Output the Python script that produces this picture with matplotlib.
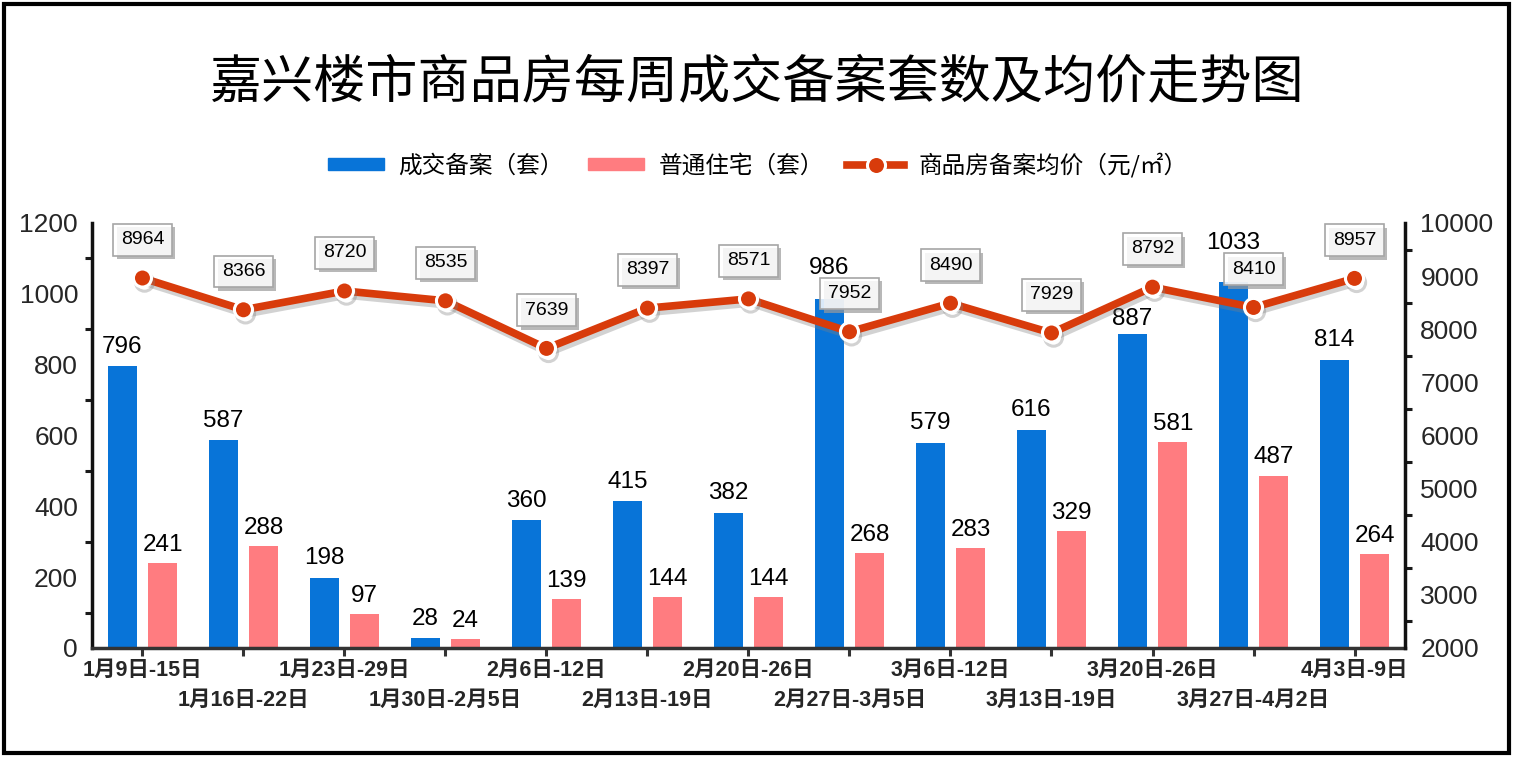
import matplotlib
matplotlib.use('Agg')
import matplotlib.pyplot as plt
import numpy as np
from matplotlib.patches import Patch, Rectangle
from matplotlib.lines import Line2D
import matplotlib.patheffects as pe

plt.rcParams['font.family'] = ['Liberation Sans', 'Noto Sans CJK SC', 'DejaVu Sans']

weeks = ['1月9日-15日', '1月16日-22日', '1月23日-29日', '1月30日-2月5日', '2月6日-12日',
         '2月13日-19日', '2月20日-26日', '2月27日-3月5日', '3月6日-12日', '3月13日-19日',
         '3月20日-26日', '3月27日-4月2日', '4月3日-9日']
total_units = [796, 587, 198, 28, 360, 415, 382, 986, 579, 616, 887, 1033, 814]
resid_units = [241, 288, 97, 24, 139, 144, 144, 268, 283, 329, 581, 487, 264]
avg_price = [8964, 8366, 8720, 8535, 7639, 8397, 8571, 7952, 8490, 7929, 8792, 8410, 8957]

title = '嘉兴楼市商品房每周成交备案套数及均价走势图'
legend_labels = ['成交备案（套）', '普通住宅（套）', '商品房备案均价（元/㎡）']

BLUE = '#0874D8'
PINK = '#FF7C80'
RED = '#D83B0B'

fig = plt.figure(figsize=(15.15, 7.6), dpi=100)
ax = fig.add_axes([0.0607, 0.1474, 0.8667, 0.5592])
ax2 = ax.twinx()

x = np.arange(len(weeks))
w = 0.29
ax.bar(x - 0.2, total_units, w, color=BLUE, zorder=2)
ax.bar(x + 0.2, resid_units, w, color=PINK, zorder=2)
ax.set_xlim(-0.5, len(weeks) - 0.5)
ax.set_ylim(0, 1200)
ax2.set_ylim(2000, 10000)

# bar value labels
special = {7: 22, 10: 11, 11: 28}
for i, v in enumerate(total_units):
    ax.annotate(str(v), (x[i] - 0.2, v), xytext=(0, special.get(i, 14)), textcoords='offset points',
                ha='center', va='center', fontsize=17.5, color='black')
for i, v in enumerate(resid_units):
    ax.annotate(str(v), (x[i] + 0.2, v), xytext=(0, 13), textcoords='offset points',
                ha='center', va='center', fontsize=17.5, color='black')

# ticks / spines
ax.set_yticks(range(0, 1201, 200))
ax.set_yticks(range(100, 1200, 200), minor=True)
ax.tick_params(axis='y', which='major', length=0, labelsize=19, pad=10, labelcolor='#262626')
ax.tick_params(axis='y', which='minor', length=5, width=2.2, direction='out', color='#1a1a1a')
ax.set_xticks(x)
ax.set_xticklabels([])
ax.tick_params(axis='x', which='major', length=6, width=2.2, direction='out', color='#333333')

ax2.set_yticks(range(2000, 10001, 1000))
ax2.set_yticks(range(2500, 10000, 1000), minor=True)
ax2.tick_params(axis='y', which='major', length=0, labelsize=19, pad=11, labelcolor='#262626')
ax2.tick_params(axis='y', which='minor', length=5, width=2.2, direction='out', color='#1a1a1a')

for s in ['top', 'right']:
    ax.spines[s].set_visible(False)
for s in ['top', 'left', 'bottom']:
    ax2.spines[s].set_visible(False)
ax.spines['left'].set_linewidth(2.5)
ax.spines['left'].set_color('#111111')
ax.spines['bottom'].set_linewidth(2.5)
ax.spines['bottom'].set_color('#333333')
ax2.spines['right'].set_linewidth(2.5)
ax2.spines['right'].set_color('#111111')

# x category labels (two staggered rows)
for i, lab in enumerate(weeks):
    off = -16 if i % 2 == 0 else -37.5
    ax.annotate(lab, xy=(x[i], 0), xycoords=('data', 'axes fraction'), xytext=(0, off),
                textcoords='offset points', ha='center', va='center', fontsize=15.5,
                fontweight='bold', color='#262626', annotation_clip=False)

# price line
ax2.plot(x, avg_price, color=RED, lw=5.5, marker='o', ms=13, mfc=RED, mec='white', mew=2.2,
         zorder=5, solid_capstyle='round',
         path_effects=[pe.SimpleLineShadow(offset=(1.5, -3), shadow_color='#808080', alpha=0.35),
                       pe.Normal()])
for i, v in enumerate(avg_price):
    ann = ax2.annotate(str(v), (x[i], v), xytext=(0, 27.5), textcoords='offset points',
                       ha='center', va='center', fontsize=14, color='black', zorder=7,
                       bbox=dict(boxstyle='square,pad=0.38', fc=(1, 1, 1, 0.85), ec='#A6A6A6', lw=1.2))
    ann.get_bbox_patch().set_path_effects(
        [pe.SimplePatchShadow(offset=(2.5, -2.5), shadow_rgbFace='#9a9a9a', alpha=0.7), pe.Normal()])

# title
fig.text(0.5, 1 - 83 / 760, title, ha='center', va='center', fontsize=37.5,
         family=['Noto Sans CJK SC'], color='black')

# legend
handles = [Patch(color=BLUE), Patch(color=PINK),
           Line2D([0], [0], color=RED, lw=5.5, marker='o', ms=13, mfc=RED, mec='white', mew=2.2)]
fig.legend(handles, legend_labels, loc='center', bbox_to_anchor=(0.5, 1 - 165 / 760), ncol=3,
           frameon=False, handlelength=2.4, handleheight=0.45,
           columnspacing=1.0, handletextpad=0.6, prop={'family': ['Noto Sans CJK SC'], 'size': 17})

# outer frame
fig.add_artist(Rectangle((0.0026, 0.0092), 0.9934, 0.9855, transform=fig.transFigure,
                         fill=False, lw=3, ec='black'))

fig.savefig('out.png', dpi=100)
